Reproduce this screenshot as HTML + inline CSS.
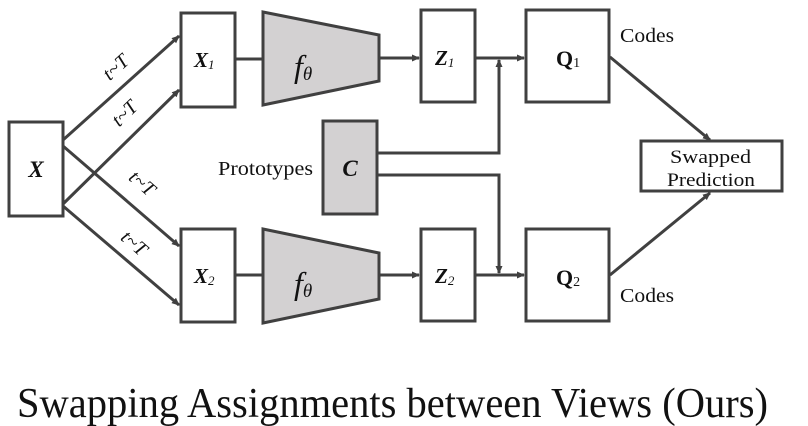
<!DOCTYPE html>
<html><head><meta charset="utf-8"><style>
html,body{margin:0;padding:0;background:#fff;}
svg{display:block;font-family:"Liberation Serif","DejaVu Serif",serif;}
svg text{font-family:"Liberation Serif","DejaVu Serif",serif;fill:#111;}
</style></head><body>
<svg width="808" height="426" viewBox="0 0 808 426" xmlns="http://www.w3.org/2000/svg">
<defs>
<marker id="a" markerWidth="8" markerHeight="8" refX="7" refY="4" orient="auto" markerUnits="userSpaceOnUse">
<path d="M0,0.5 L8,4 L0,7.5 Z" fill="#404040"/></marker>
</defs>
<g stroke="#404040" stroke-width="3" fill="#fff">
<rect x="9" y="122" width="54" height="94"/>
<rect x="181" y="13" width="54" height="94"/>
<rect x="181" y="229" width="54" height="93"/>
<path d="M263,12 L379,35 L379,81 L263,105 Z" fill="#d3d1d2"/>
<path d="M263,229 L379,253 L379,299 L263,323 Z" fill="#d3d1d2"/>
<rect x="421" y="10" width="54" height="92"/>
<rect x="421" y="229" width="54" height="92"/>
<rect x="526" y="10" width="83" height="92"/>
<rect x="526" y="229" width="83" height="92"/>
<rect x="323" y="121" width="54" height="93" fill="#d3d1d2"/>
<rect x="641" y="141" width="141" height="50"/>
</g>
<g stroke="#404040" stroke-width="3" fill="none">
<line x1="63" y1="140" x2="179" y2="36" marker-end="url(#a)"/>
<line x1="63" y1="204" x2="179" y2="90" marker-end="url(#a)"/>
<line x1="63" y1="146" x2="179" y2="246" marker-end="url(#a)"/>
<line x1="63" y1="206" x2="179" y2="305" marker-end="url(#a)"/>
<line x1="235" y1="59" x2="263" y2="59"/>
<line x1="235" y1="275" x2="263" y2="275"/>
<line x1="379" y1="58" x2="419" y2="58" marker-end="url(#a)"/>
<line x1="379" y1="275" x2="419" y2="275" marker-end="url(#a)"/>
<line x1="475" y1="58" x2="524" y2="58" marker-end="url(#a)"/>
<line x1="475" y1="275" x2="524" y2="275" marker-end="url(#a)"/>
<polyline points="377,153 499,153 499,60" marker-end="url(#a)"/>
<polyline points="377,175 499,175 499,273" marker-end="url(#a)"/>
<line x1="610" y1="57" x2="710" y2="140" marker-end="url(#a)"/>
<line x1="610" y1="275" x2="710" y2="193" marker-end="url(#a)"/>
</g>
<g font-style="italic" font-size="20">
<text transform="translate(120,72) rotate(-42)" text-anchor="middle">t~T</text>
<text transform="translate(129,118) rotate(-44)" text-anchor="middle">t~T</text>
<text transform="translate(138,188) rotate(41)" text-anchor="middle">t~T</text>
<text transform="translate(130,248) rotate(41)" text-anchor="middle">t~T</text>
</g>
<g font-weight="bold" font-style="italic">
<text x="36" y="177" font-size="23" text-anchor="middle">X</text>
<text x="194" y="67" font-size="21">X<tspan font-size="13" font-weight="normal" dy="2">1</tspan></text>
<text x="194" y="283" font-size="21">X<tspan font-size="13" font-weight="normal" dy="2">2</tspan></text>
<text x="435" y="65" font-size="21">Z<tspan font-size="13" font-weight="normal" dy="2">1</tspan></text>
<text x="435" y="283" font-size="21">Z<tspan font-size="13" font-weight="normal" dy="2">2</tspan></text>
<text x="350" y="176" font-size="23" text-anchor="middle">C</text>
</g>
<text x="556" y="66" font-size="22" font-weight="bold">Q<tspan font-size="14" font-weight="normal" dy="1">1</tspan></text>
<text x="556" y="285" font-size="22" font-weight="bold">Q<tspan font-size="14" font-weight="normal" dy="1">2</tspan></text>
<text x="294" y="77" font-size="32" font-style="italic">f<tspan font-size="19" dy="3">θ</tspan></text>
<text x="294" y="294" font-size="32" font-style="italic">f<tspan font-size="19" dy="3">θ</tspan></text>
<text x="218" y="175" font-size="20" textLength="95" lengthAdjust="spacingAndGlyphs">Prototypes</text>
<text x="620" y="42" font-size="20" textLength="54" lengthAdjust="spacingAndGlyphs">Codes</text>
<text x="620" y="302" font-size="20" textLength="54" lengthAdjust="spacingAndGlyphs">Codes</text>
<text x="670" y="163" font-size="19" textLength="81" lengthAdjust="spacingAndGlyphs">Swapped</text>
<text x="667" y="186" font-size="19" textLength="88" lengthAdjust="spacingAndGlyphs">Prediction</text>
<text x="17" y="417" font-size="42" textLength="751" lengthAdjust="spacingAndGlyphs">Swapping Assignments between Views (Ours)</text>
</svg>
</body></html>
